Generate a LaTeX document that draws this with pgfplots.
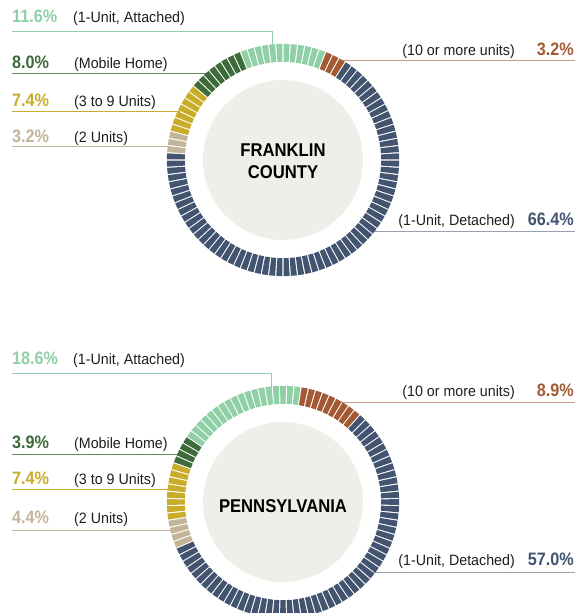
\documentclass[border=0pt]{standalone}
\usepackage{pgfplots}
\pgfplotsset{compat=1.18}
\usepgfplotslibrary{polar}
\usepackage{fontspec}
\setmainfont[FakeStretch=0.95]{Liberation Sans}
\newfontfamily\cond[FakeStretch=0.9]{Liberation Sans}
\definecolor{lgreen}{RGB}{143,208,167}
\definecolor{dgreen}{RGB}{61,107,58}
\definecolor{yel}{RGB}{200,172,42}
\definecolor{tan}{RGB}{196,181,154}
\definecolor{brn}{RGB}{163,90,52}
\definecolor{blu}{RGB}{67,84,112}
\definecolor{beige}{RGB}{240,238,232}
\definecolor{txt}{RGB}{30,30,30}
% one ring segment: a small wedge, 18pt long (radius 98..116), drawn along +x
\pgfdeclareplotmark{seg}{%
  \pgfpathmoveto{\pgfpoint{-9pt}{-2.5pt}}%
  \pgfpathlineto{\pgfpoint{9pt}{-3.05pt}}%
  \pgfpathlineto{\pgfpoint{9pt}{3.05pt}}%
  \pgfpathlineto{\pgfpoint{-9pt}{2.5pt}}%
  \pgfpathclose\pgfusepathqfill}
\pgfplotsset{
  ring/.style={hide axis, width=232pt, height=232pt, scale only axis,
    ymin=0, ymax=116, xmin=0, xmax=360, enlargelimits=false, clip=false, anchor=center},
  seg/.style={scatter, only marks, mark=seg, fill=#1, draw=none,
    mark options={fill=#1, draw=none},
    point meta=x, point meta min=-400, point meta max=400,
    scatter/@pre marker code/.code={\pgfscope\pgftransformrotate{\ang}},
    scatter/@post marker code/.code={\endpgfscope}},
  fr/.style={visualization depends on={66.6-3.6*\thisrow{k} \as \ang}},
  pa/.style={visualization depends on={79.2-3.6*\thisrow{k} \as \ang}},
}
\newcommand{\lab}[1]{{\fontsize{15pt}{16pt}\selectfont\color{txt}#1}}
\newcommand{\pct}[2]{{\cond\bfseries\fontsize{18pt}{20pt}\selectfont\color{#1}#2}}
\begin{document}
\begin{tikzpicture}
\useasboundingbox (0,0) rectangle (575pt,-613pt);
% ---------- connector lines (Franklin)
\draw[lgreen, line width=0.9pt] (12pt,-31.7pt) -| (272pt,-46pt);
\draw[dgreen!80, line width=0.9pt] (12pt,-73.3pt) -- (208pt,-73.3pt);
\draw[yel, line width=0.9pt] (12pt,-111pt) -- (180pt,-111pt);
\draw[tan, line width=0.9pt] (12pt,-146pt) -- (170pt,-146pt);
\draw[brn!60, line width=0.9pt] (340pt,-60pt) -- (575pt,-60pt);
\draw[blu!55, line width=0.9pt] (372pt,-231.7pt) -- (575pt,-231.7pt);
% ---------- connector lines (Pennsylvania)
\draw[lgreen, line width=0.9pt] (12pt,-373.3pt) -| (271pt,-388pt);
\draw[dgreen!80, line width=0.9pt] (12pt,-454.3pt) -- (179pt,-454.3pt);
\draw[yel, line width=0.9pt] (12pt,-489pt) -- (170pt,-489pt);
\draw[tan, line width=0.9pt] (12pt,-530pt) -- (172pt,-530pt);
\draw[brn!60, line width=0.9pt] (340pt,-402pt) -- (575pt,-402pt);
\draw[blu!55, line width=0.9pt] (373pt,-572pt) -- (575pt,-572pt);

% ---------- Franklin County ring: one segment per 1 % (k = 0..99)
\begin{polaraxis}[ring, at={(283pt,-160pt)}]
\addplot[seg=brn, fr] table[x expr=66.6-3.6*\thisrow{k}, y expr=107, row sep=\\]{k\\0\\1\\2\\};
\addplot[seg=blu, fr] table[x expr=66.6-3.6*\thisrow{k}, y expr=107, row sep=\\]{k\\3\\4\\5\\6\\7\\8\\9\\10\\11\\12\\13\\14\\15\\16\\17\\18\\19\\20\\21\\22\\23\\24\\25\\26\\27\\28\\29\\30\\31\\32\\33\\34\\35\\36\\37\\38\\39\\40\\41\\42\\43\\44\\45\\46\\47\\48\\49\\50\\51\\52\\53\\54\\55\\56\\57\\58\\59\\60\\61\\62\\63\\64\\65\\66\\67\\68\\69\\};
\addplot[seg=tan, fr] table[x expr=66.6-3.6*\thisrow{k}, y expr=107, row sep=\\]{k\\70\\71\\72\\};
\addplot[seg=yel, fr] table[x expr=66.6-3.6*\thisrow{k}, y expr=107, row sep=\\]{k\\73\\74\\75\\76\\77\\78\\79\\};
\addplot[seg=dgreen, fr] table[x expr=66.6-3.6*\thisrow{k}, y expr=107, row sep=\\]{k\\80\\81\\82\\83\\84\\85\\86\\87\\};
\addplot[seg=lgreen, fr] table[x expr=66.6-3.6*\thisrow{k}, y expr=107, row sep=\\]{k\\88\\89\\90\\91\\92\\93\\94\\95\\96\\97\\98\\99\\};
\end{polaraxis}
\fill[beige] (283pt,-160pt) circle[radius=80pt];
\node[align=center, font=\cond\bfseries\fontsize{18.5pt}{22pt}\selectfont, text=black] at (283pt,-161pt) {FRANKLIN\\COUNTY};

% ---------- Pennsylvania ring
\begin{polaraxis}[ring, at={(283pt,-502pt)}]
\addplot[seg=brn, pa] table[x expr=79.2-3.6*\thisrow{k}, y expr=107, row sep=\\]{k\\0\\1\\2\\3\\4\\5\\6\\7\\8\\};
\addplot[seg=blu, pa] table[x expr=79.2-3.6*\thisrow{k}, y expr=107, row sep=\\]{k\\9\\10\\11\\12\\13\\14\\15\\16\\17\\18\\19\\20\\21\\22\\23\\24\\25\\26\\27\\28\\29\\30\\31\\32\\33\\34\\35\\36\\37\\38\\39\\40\\41\\42\\43\\44\\45\\46\\47\\48\\49\\50\\51\\52\\53\\54\\55\\56\\57\\58\\59\\60\\61\\62\\63\\64\\65\\};
\addplot[seg=tan, pa] table[x expr=79.2-3.6*\thisrow{k}, y expr=107, row sep=\\]{k\\66\\67\\68\\69\\};
\addplot[seg=yel, pa] table[x expr=79.2-3.6*\thisrow{k}, y expr=107, row sep=\\]{k\\70\\71\\72\\73\\74\\75\\76\\77\\};
\addplot[seg=dgreen, pa] table[x expr=79.2-3.6*\thisrow{k}, y expr=107, row sep=\\]{k\\78\\79\\80\\81\\};
\addplot[seg=lgreen, pa] table[x expr=79.2-3.6*\thisrow{k}, y expr=107, row sep=\\]{k\\82\\83\\84\\85\\86\\87\\88\\89\\90\\91\\92\\93\\94\\95\\96\\97\\98\\99\\};
\end{polaraxis}
\fill[beige] (283pt,-502pt) circle[radius=80pt];
\node[font=\cond\bfseries\fontsize{18.5pt}{22pt}\selectfont, text=black] at (283pt,-506pt) {PENNSYLVANIA};

% ---------- Franklin labels
\node[anchor=base west, inner sep=0pt] at (12pt,-23pt) {\pct{lgreen}{11.6\%}};
\node[anchor=base west, inner sep=0pt] at (73pt,-23pt) {\lab{(1-Unit, Attached)}};
\node[anchor=base west, inner sep=0pt] at (12pt,-68pt) {\pct{dgreen}{8.0\%}};
\node[anchor=base west, inner sep=0pt] at (74pt,-68pt) {\lab{(Mobile Home)}};
\node[anchor=base west, inner sep=0pt] at (12pt,-106pt) {\pct{yel}{7.4\%}};
\node[anchor=base west, inner sep=0pt] at (74pt,-106pt) {\lab{(3 to 9 Units)}};
\node[anchor=base west, inner sep=0pt] at (12pt,-142pt) {\pct{tan}{3.2\%}};
\node[anchor=base west, inner sep=0pt] at (74pt,-142pt) {\lab{(2 Units)}};
\node[anchor=base east, inner sep=0pt] at (515pt,-55pt) {\lab{(10 or more units)}};
\node[anchor=base east, inner sep=0pt] at (574pt,-55pt) {\pct{brn}{3.2\%}};
\node[anchor=base east, inner sep=0pt] at (515pt,-225pt) {\lab{(1-Unit, Detached)}};
\node[anchor=base east, inner sep=0pt] at (574pt,-225pt) {\pct{blu}{66.4\%}};

% ---------- Pennsylvania labels
\node[anchor=base west, inner sep=0pt] at (12pt,-364pt) {\pct{lgreen}{18.6\%}};
\node[anchor=base west, inner sep=0pt] at (73pt,-364pt) {\lab{(1-Unit, Attached)}};
\node[anchor=base west, inner sep=0pt] at (12pt,-448pt) {\pct{dgreen}{3.9\%}};
\node[anchor=base west, inner sep=0pt] at (74pt,-448pt) {\lab{(Mobile Home)}};
\node[anchor=base west, inner sep=0pt] at (12pt,-484pt) {\pct{yel}{7.4\%}};
\node[anchor=base west, inner sep=0pt] at (74pt,-484pt) {\lab{(3 to 9 Units)}};
\node[anchor=base west, inner sep=0pt] at (12pt,-523pt) {\pct{tan}{4.4\%}};
\node[anchor=base west, inner sep=0pt] at (74pt,-523pt) {\lab{(2 Units)}};
\node[anchor=base east, inner sep=0pt] at (515pt,-396pt) {\lab{(10 or more units)}};
\node[anchor=base east, inner sep=0pt] at (574pt,-396pt) {\pct{brn}{8.9\%}};
\node[anchor=base east, inner sep=0pt] at (515pt,-565pt) {\lab{(1-Unit, Detached)}};
\node[anchor=base east, inner sep=0pt] at (574pt,-565pt) {\pct{blu}{57.0\%}};
\end{tikzpicture}
\end{document}
